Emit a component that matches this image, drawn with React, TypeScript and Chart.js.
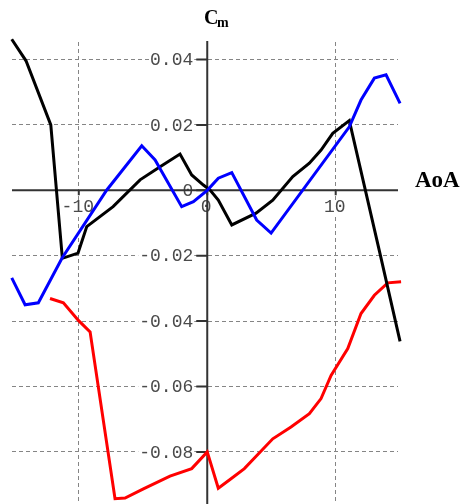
import { useEffect, useRef } from "react";
import { Chart, registerables } from "chart.js";

Chart.register(...registerables);

// Pitching-moment coefficient vs angle of attack, three configurations
const blueAoA = [-15.22, -14.18, -13.15, -11.3, -7.82, -5.1, -4.06, -1.99, -1.08, 0, 0.86, 1.91, 3.85, 4.97, 11.06, 11.97, 13.01, 13.92, 15.01];
const blueCm = [-0.0268, -0.035, -0.0344, -0.0207, 0.0001, 0.0136, 0.0093, -0.005, -0.0035, 0, 0.0037, 0.0054, -0.0091, -0.0131, 0.0194, 0.0276, 0.0343, 0.0353, 0.0266];

const blackAoA = [-15.22, -14.11, -12.18, -11.28, -10.06, -9.38, -7.33, -5.23, -3.67, -2.12, -1.21, -0.3, 0.22, 0.86, 1.91, 3.8, 5.1, 6.66, 7.95, 8.86, 9.77, 11.06, 13.4, 15.01];
const blackCm = [0.0462, 0.0396, 0.02, -0.0208, -0.0192, -0.0111, -0.005, 0.0032, 0.0072, 0.0111, 0.0047, 0.0016, 0.0001, -0.003, -0.0106, -0.007, -0.003, 0.0042, 0.0083, 0.0123, 0.0174, 0.0213, -0.0185, -0.0462];

const redAoA = [-12.24, -11.2, -10.03, -9.12, -7.18, -6.4, -4.97, -2.9, -1.21, 0, 0.86, 1.85, 2.89, 5.1, 6.52, 7.95, 8.86, 9.64, 10.94, 11.97, 13.01, 14.05, 15.09];
const redCm = [-0.0331, -0.0344, -0.0398, -0.0433, -0.0943, -0.0941, -0.0913, -0.0874, -0.0851, -0.08, -0.0911, -0.0882, -0.0851, -0.076, -0.0724, -0.0683, -0.0637, -0.0566, -0.0484, -0.0377, -0.0321, -0.0283, -0.028];

const xTickValues = [-10, 0, 10];
const xTickLabels = ["-10", "0", "10"];
const yTickValues = [0.04, 0.02, 0, -0.02, -0.04, -0.06, -0.08];
const yTickLabels = ["0.04", "0.02", "0", "-0.02", "-0.04", "-0.06", "-0.08"];

const X_MIN = -15.2;
const X_MAX = 14.85;
const Y_MIN = -0.09532;
const Y_MAX = 0.04535;

const toPoints = (xs: number[], ys: number[]) => xs.map((x, i) => ({ x, y: ys[i] }));

// Axes through the origin, tick labels and axis titles
const crossAxes = {
  id: "crossAxes",
  beforeDatasetsDraw(chart: any) {
    const { ctx, chartArea } = chart;
    const xs = chart.scales.x;
    const ys = chart.scales.y;
    const x0 = xs.getPixelForValue(0);
    const y0 = ys.getPixelForValue(0);
    ctx.save();

    ctx.font = '18px "Liberation Mono", monospace';
    ctx.textBaseline = "middle";
    // y tick labels
    ctx.textAlign = "right";
    yTickValues.forEach((v, i) => {
      const py = ys.getPixelForValue(v);
      const w = ctx.measureText(yTickLabels[i]).width;
      ctx.fillStyle = "#ffffff";
      ctx.fillRect(x0 - 14 - w - 1, py - 7, w + 2, 14);
      ctx.fillStyle = "#4a4a4a";
      ctx.fillText(yTickLabels[i], x0 - 14, py + 1);
    });
    // x tick labels
    ctx.textAlign = "center";
    xTickValues.forEach((v, i) => {
      const px = xs.getPixelForValue(v) - 1;
      const w = ctx.measureText(xTickLabels[i]).width;
      ctx.fillStyle = "#ffffff";
      ctx.fillRect(px - w / 2 - 1, y0 + 10, w + 2, 14);
      ctx.fillStyle = "#4a4a4a";
      ctx.fillText(xTickLabels[i], px, y0 + 17);
    });

    // axis lines
    ctx.strokeStyle = "#333333";
    ctx.lineWidth = 2;
    ctx.beginPath();
    ctx.moveTo(chartArea.left, y0);
    ctx.lineTo(chartArea.right, y0);
    ctx.moveTo(x0, chartArea.top - 1);
    ctx.lineTo(x0, chartArea.bottom + 2);
    ctx.stroke();

    // tick marks
    ctx.beginPath();
    yTickValues.forEach((v) => {
      const py = ys.getPixelForValue(v);
      ctx.moveTo(x0 - 11, py);
      ctx.lineTo(x0, py);
    });
    xTickValues.forEach((v) => {
      const px = xs.getPixelForValue(v);
      ctx.moveTo(px, y0);
      ctx.lineTo(px, y0 + 5);
    });
    ctx.stroke();
    ctx.restore();
  },
  afterDraw(chart: any) {
    const { ctx } = chart;
    ctx.save();
    ctx.fillStyle = "#000000";
    ctx.textAlign = "left";
    ctx.textBaseline = "alphabetic";
    ctx.font = 'bold 20px "Liberation Serif", serif';
    ctx.fillText("C", 204, 24);
    ctx.font = 'bold 14px "Liberation Serif", serif';
    ctx.fillText("m", 217, 27);
    ctx.font = 'bold 23px "Liberation Serif", serif';
    ctx.fillText("AoA", 415, 187);
    ctx.restore();
  },
};

export default function App() {
  const canvasRef = useRef<HTMLCanvasElement | null>(null);

  useEffect(() => {
    if (!canvasRef.current) return;
    const gridColor = (c: any) => (c.tick && c.tick.value === 0 ? "rgba(0,0,0,0)" : "#858585");
    const chart = new Chart(canvasRef.current, {
      type: "line",
      data: {
        datasets: [
          { data: toPoints(blueAoA, blueCm), borderColor: "#0000ff", borderWidth: 3, pointRadius: 0, tension: 0, fill: false, clip: false as any },
          { data: toPoints(blackAoA, blackCm), borderColor: "#000000", borderWidth: 3, pointRadius: 0, tension: 0, fill: false, clip: false as any },
          { data: toPoints(redAoA, redCm), borderColor: "#ff0000", borderWidth: 3, pointRadius: 0, tension: 0, fill: false, clip: false as any },
        ],
      },
      options: {
        responsive: false,
        animation: false,
        devicePixelRatio: 1,
        layout: { padding: { left: 12, top: 42, right: 64, bottom: 2 } },
        plugins: { legend: { display: false }, tooltip: { enabled: false } },
        scales: {
          x: {
            type: "linear",
            min: X_MIN,
            max: X_MAX,
            afterBuildTicks: (scale: any) => {
              scale.ticks = xTickValues.map((value) => ({ value }));
            },
            ticks: { display: false },
            grid: { color: gridColor, lineWidth: 1, drawTicks: false },
            border: { display: false, dash: [4, 3] },
          },
          y: {
            type: "linear",
            min: Y_MIN,
            max: Y_MAX,
            afterBuildTicks: (scale: any) => {
              scale.ticks = yTickValues.map((value) => ({ value }));
            },
            ticks: { display: false },
            grid: { color: gridColor, lineWidth: 1, drawTicks: false },
            border: { display: false, dash: [4, 3] },
          },
        },
      },
      plugins: [crossAxes],
    });
    return () => chart.destroy();
  }, []);

  return (
    <div style={{ position: "absolute", left: 0, top: 0, width: 462, height: 504, background: "#ffffff" }}>
      <canvas ref={canvasRef} width={462} height={504} />
    </div>
  );
}
